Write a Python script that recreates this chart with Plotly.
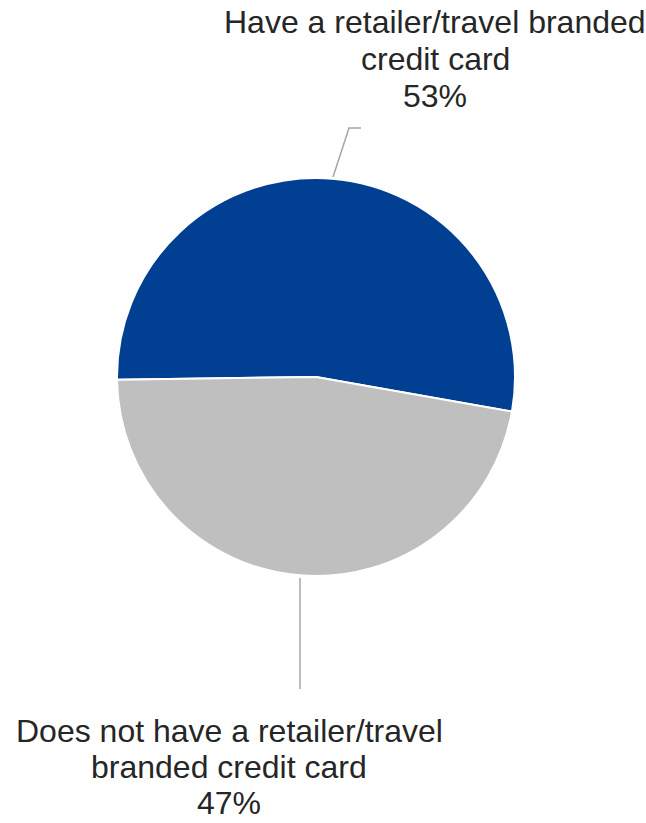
import plotly.graph_objects as go

labels = ["Have a retailer/travel branded credit card",
          "Does not have a retailer/travel branded credit card"]
values = [53, 47]
label_lines = [["Have a retailer/travel branded", "credit card"],
               ["Does not have a retailer/travel", "branded credit card"]]
colors = ["#003F91", "#BFBFBF"]

W, H = 646, 823

def px(x):
    return x / W

def py(y):
    return 1 - y / H

fig = go.Figure(go.Pie(
    labels=labels,
    values=values,
    sort=False,
    direction="clockwise",
    rotation=269.2,
    marker=dict(colors=colors, line=dict(color="#FFFFFF", width=2)),
    textinfo="none",
    hoverinfo="label+percent",
    showlegend=False,
    domain=dict(x=[px(117), px(515)], y=[py(576), py(178)]),
))

total = sum(values)
pct = [f"{round(v * 100 / total)}%" for v in values]

font = dict(family="Liberation Sans, Arial, sans-serif", size=32, color="#262626")
LINE_GAP = 37

# outside labels, one annotation per line for tighter line spacing
label_anchor = [(435, 22), (229, 731)]
for i, (cx, cy) in enumerate(label_anchor):
    for j, line in enumerate(label_lines[i] + [pct[i]]):
        fig.add_annotation(x=px(cx), y=py(cy + j * (LINE_GAP - i)), xref="paper", yref="paper",
                           xanchor="center", yanchor="middle", showarrow=False,
                           height=30, valign="middle",
                           text=line, font=font)

# leader lines
line_style = dict(color="#A6A6A6", width=1.5)
fig.add_shape(type="path", xref="paper", yref="paper",
              path=f"M {px(333)} {py(177)} L {px(349)} {py(128)} L {px(361)} {py(128)}",
              line=line_style)
fig.add_shape(type="line", xref="paper", yref="paper",
              x0=px(300), y0=py(578), x1=px(300), y1=py(689), line=line_style)

fig.update_layout(width=W, height=H, margin=dict(l=0, r=0, t=0, b=0),
                  paper_bgcolor="#FFFFFF", plot_bgcolor="#FFFFFF")

fig.write_html("out.html", config={"displayModeBar": False})
